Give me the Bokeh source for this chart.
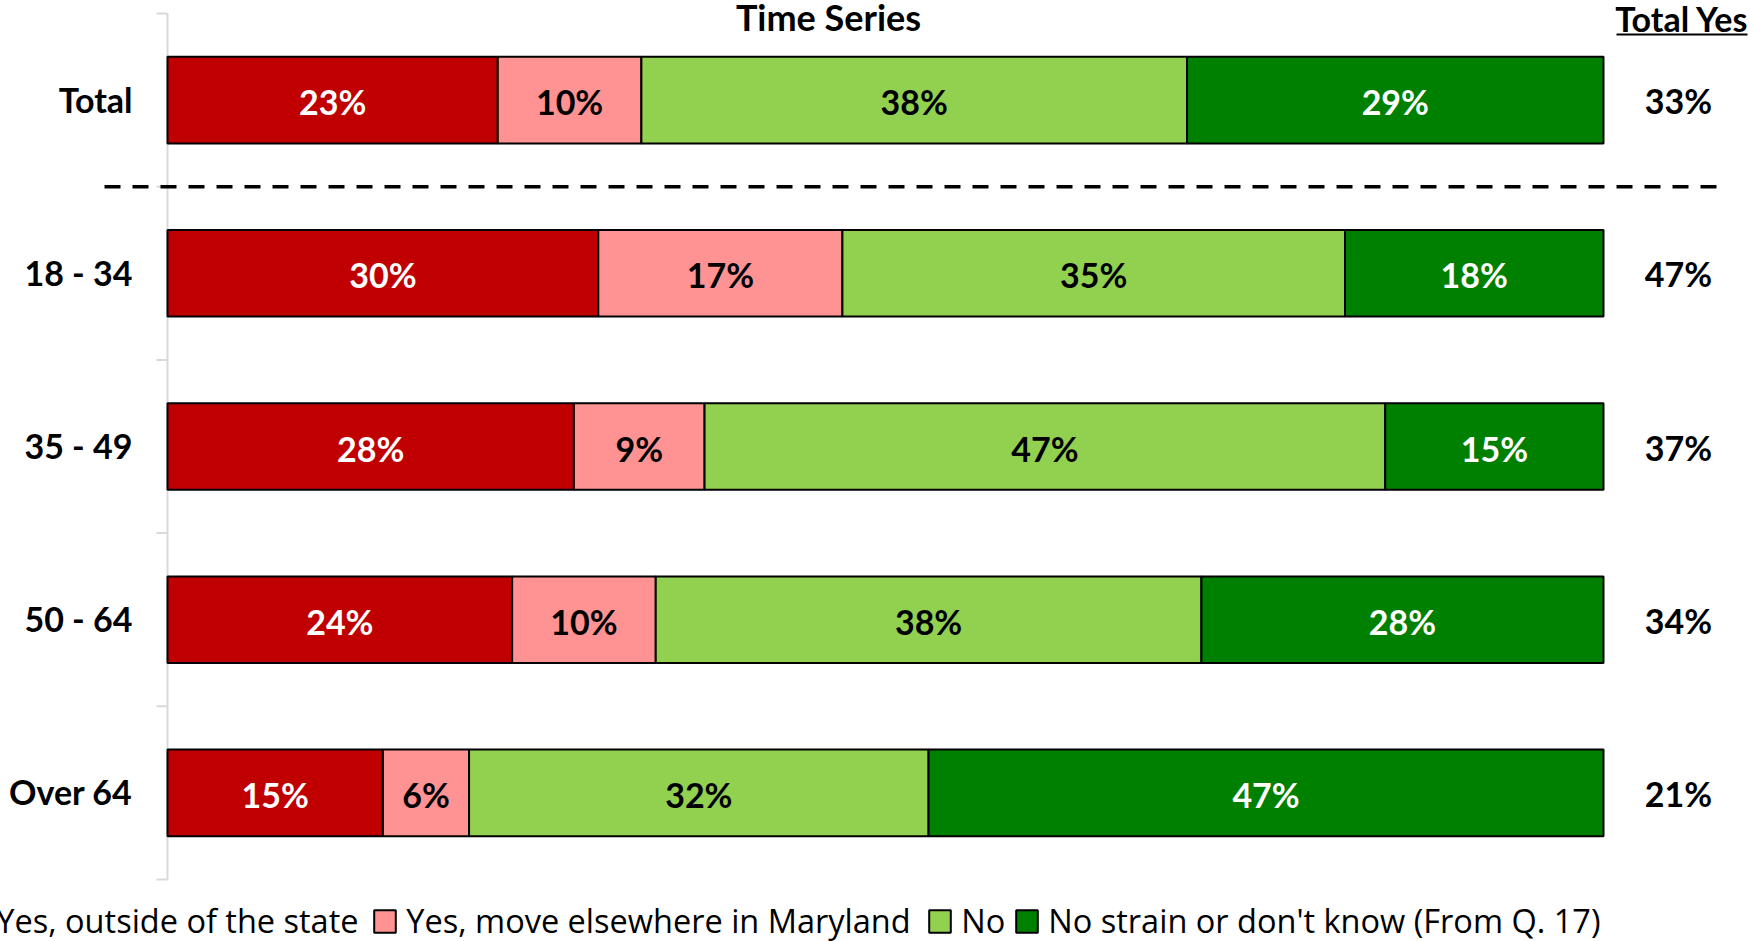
from bokeh.plotting import figure
from bokeh.models import (Range1d, ColumnDataSource, Label, Arrow, Legend, LegendItem)
from bokeh.core.properties import value
from bokeh.embed import file_html
from bokeh.resources import INLINE

# ---- data ----
groups = ["Total", "18 - 34", "35 - 49", "50 - 64", "Over 64"]
yes_outside = [23, 30, 28.3, 24, 15]
yes_maryland = [10, 17, 9.1, 10, 6]
no_move = [38, 35, 47.4, 38, 32]
no_strain = [29, 18, 15.2, 28, 47]
total_yes = [33, 47, 37, 34, 21]
series_names = ["Yes, outside of the state", "Yes, move elsewhere in Maryland",
                "No", "No strain or don't know (From Q. 17)"]
series_values = [yes_outside, yes_maryland, no_move, no_strain]
colors = ["#C00000", "#FF9393", "#92D050", "#008000"]
text_colors = ["white", "black", "black", "white"]

FONT_NAME = "Lato"
FONT = value(FONT_NAME)
LEGEND_FONT = "Open Sans"
W, H = 1750, 941
X0, PX_X = 167, 14.36      # screen x of value 0, px per percent
Y0, PX_Y = 13, 173.2       # screen y of top category boundary, px per category

centers = [i + 0.5 for i in range(len(groups))]

p = figure(width=W, height=H,
           x_range=Range1d(-X0 / PX_X, (W - X0) / PX_X),
           y_range=Range1d((H - Y0) / PX_Y, -Y0 / PX_Y),
           output_backend="svg", toolbar_location=None, title=None,
           x_axis_location=None, y_axis_location=None, min_border=0)
p.outline_line_color = None
p.grid.visible = False
p.background_fill_color = "white"
p.border_fill_color = "white"

# category axis line with boundary ticks
bounds = list(range(len(groups) + 1))
p.segment(x0=[0], y0=[bounds[0]], x1=[0], y1=[bounds[-1]], line_color="#D9D9D9", line_width=2)
p.segment(x0=[-11 / PX_X] * len(bounds), y0=bounds, x1=[0] * len(bounds), y1=bounds,
          line_color="#D9D9D9", line_width=2)

# stacked bars
data = dict(y=centers)
keys = []
for i, vals in enumerate(series_values):
    k = f"s{i}"
    data[k] = vals
    keys.append(k)
src = ColumnDataSource(data)
renderers = p.hbar_stack(keys, y="y", height=0.5, color=colors, line_color="black",
                         line_width=2, source=src)

# in-bar labels
label_dy = 1.5 / PX_Y
for i, vals in enumerate(series_values):
    xs, ys, texts = [], [], []
    for j, v in enumerate(vals):
        left = sum(series_values[k][j] for k in range(i))
        xs.append(left + v / 2.0)
        ys.append(centers[j] + label_dy)
        texts.append(f"{round(v)}%")
    p.text(x=xs, y=ys, text=texts, text_align="center", text_baseline="alphabetic",
           text_font=FONT, text_font_style="bold", text_font_size="34px",
           text_color=text_colors[i])

# category labels
cat_dy = -1 / PX_Y
p.text(x=[(132 - X0) / PX_X] * len(groups), y=[c + cat_dy for c in centers], text=groups,
       text_align="right", text_baseline="alphabetic", text_font=FONT,
       text_font_style="bold", text_font_size="34px", text_color="black")

# total yes column
p.text(x=[(1678 - X0) / PX_X] * len(groups), y=[c + 0.5 / PX_Y for c in centers],
       text=[f"{v}%" for v in total_yes], text_align="center", text_baseline="alphabetic",
       text_font=FONT, text_font_style="bold", text_font_size="34px", text_color="black")

# headers
p.add_layout(Label(x=(828 - X0) / PX_X, y=(16.5 - Y0) / PX_Y, text="Time Series",
                   text_align="center", text_baseline="alphabetic", text_font=FONT_NAME,
                   text_font_style="bold", text_font_size="36px", text_color="black"))
p.add_layout(Label(x=(1681.5 - X0) / PX_X, y=(17.5 - Y0) / PX_Y, text="Total Yes",
                   text_align="center", text_baseline="alphabetic", text_font=FONT_NAME,
                   text_font_style="bold", text_font_size="34px", text_color="black"))
p.add_layout(Arrow(x_start=(1616 - X0) / PX_X, x_end=(1747 - X0) / PX_X,
                   y_start=(34 - Y0) / PX_Y, y_end=(34 - Y0) / PX_Y,
                   start=None, end=None, line_color="black", line_width=2))

# dashed separator between Total and age groups
p.add_layout(Arrow(x_start=(104 - X0) / PX_X, x_end=(1717 - X0) / PX_X, y_start=1, y_end=1,
                   start=None, end=None, line_color="black", line_width=3.5,
                   line_dash="16 12"))

# legend (one legend per item, laid out horizontally)
legend_x = [-38.7, 371.3, 926.3, 1013.3]
for i, r in enumerate(renderers):
    lg = Legend(items=[LegendItem(label=series_names[i], renderers=[r])],
                location=(legend_x[i], -2), orientation="horizontal",
                padding=0, margin=0, border_line_color=None, background_fill_alpha=0,
                label_text_font=LEGEND_FONT, label_text_font_size="32.5px",
                label_text_color="black",
                glyph_width=27, glyph_height=28, label_standoff=8, label_height=22)
    p.add_layout(lg)

open("out.html", "w").write(file_html(p, INLINE))
